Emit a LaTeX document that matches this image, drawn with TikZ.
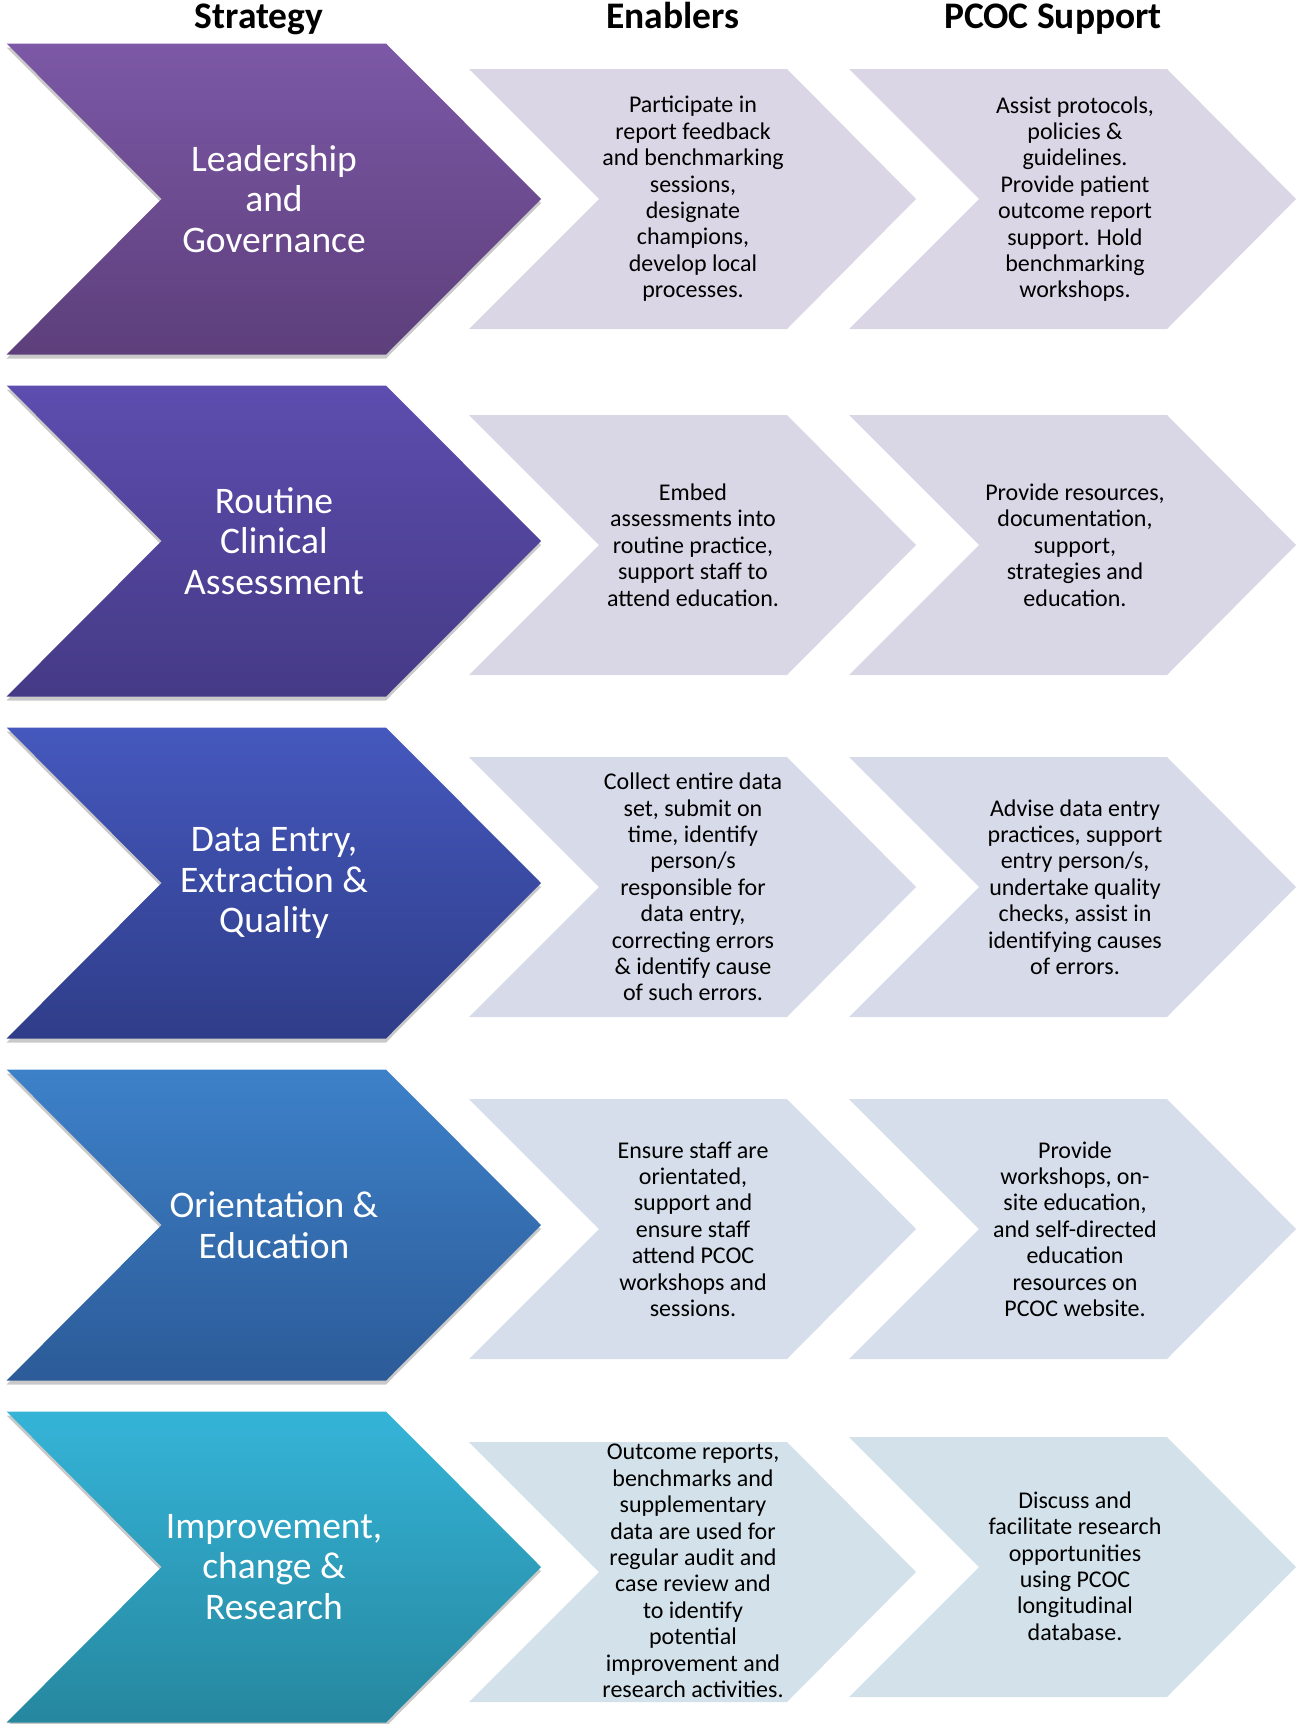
\documentclass[tikz,border=0pt]{standalone}
\usepackage{fontspec}
\setmainfont{Carlito}
\usetikzlibrary{shadows}

% colours of the strategy arrows (top / bottom of the shading)
\definecolor{leadtop}{HTML}{7C58A6}
\definecolor{leadbot}{HTML}{5D3F7B}
\definecolor{routtop}{HTML}{5D4DAF}
\definecolor{routbot}{HTML}{453A86}
\definecolor{datatop}{HTML}{4558BD}
\definecolor{databot}{HTML}{2F3D89}
\definecolor{orietop}{HTML}{3D81C9}
\definecolor{oriebot}{HTML}{2C5B98}
\definecolor{imprtop}{HTML}{35B4D8}
\definecolor{imprbot}{HTML}{26879F}
% pale arrows
\definecolor{paleA}{HTML}{DAD6E5}
\definecolor{paleB}{HTML}{D9D7E6}
\definecolor{paleC}{HTML}{D7DAE8}
\definecolor{paleD}{HTML}{D5DEEA}
\definecolor{paleE}{HTML}{D3E2EA}

\newcommand{\strategyarrow}[3]{% mid y, top colour, bottom colour
  \path[bigarrow, top color=#2, bottom color=#3] (6.6,#1-155.5) -- (386,#1-155.5) -- (541,#1) -- (386,#1+155.5) -- (6.6,#1+155.5) -- (161.6,#1) -- cycle;}
\newcommand{\palearrow}[3]{% left x, mid y, fill
  \fill[#3] (#1,#2-130) -- (#1+318,#2-130) -- (#1+447,#2) -- (#1+318,#2+130) -- (#1,#2+130) -- (#1+130,#2) -- cycle;}

\tikzset{
  bigarrow/.style={drop shadow={shadow xshift=0pt,shadow yshift=-4pt,opacity=0.3,fill=black!70}},
  headtxt/.style={anchor=base,font=\fontsize{37.5}{44}\selectfont\bfseries},
  bigtxt/.style={align=center,text=white,inner sep=0pt,font=\fontsize{37.5}{40.7}\selectfont},
  smalltxt/.style={align=center,text=black,inner sep=0pt,font=\fontsize{24}{26.4}\selectfont}
}

\begin{document}
\begin{tikzpicture}[x=1pt,y=1pt,yscale=-1,xscale=1]
\useasboundingbox (0,0) rectangle (1296,1724);
% column heads
\node[headtxt] (strat) at (259,28.5) {Strategy};
\node[headtxt] (enab) at (673,28.5) {Enablers};
\node[headtxt] (supp) at (1053,28.5) {PCOC Support};

% arrows
\strategyarrow{199}{leadtop}{leadbot}
\strategyarrow{541}{routtop}{routbot}
\strategyarrow{883}{datatop}{databot}
\strategyarrow{1225}{orietop}{oriebot}
\strategyarrow{1567}{imprtop}{imprbot}
\palearrow{469}{199}{paleA}
\palearrow{849}{199}{paleA}
\palearrow{469}{545}{paleB}
\palearrow{849}{545}{paleB}
\palearrow{469}{887}{paleC}
\palearrow{849}{887}{paleC}
\palearrow{469}{1229}{paleD}
\palearrow{849}{1229}{paleD}
\palearrow{469}{1572}{paleE}
\palearrow{849}{1567}{paleE}

% row 1
\node[bigtxt] (lead) at (274,199) {Leadership\\and\\Governance};
\node[smalltxt] (leadE) at (693,199) {Participate in\\report feedback\\and benchmarking\\sessions,\\designate\\champions,\\develop local\\processes.};
\node[smalltxt] (leadS) at (1075,199) {Assist protocols,\\policies \&\\guidelines.\\Provide patient\\outcome report\\support. Hold\\benchmarking\\workshops.};
% row 2
\node[bigtxt] (rout) at (274,541) {Routine\\Clinical\\Assessment};
\node[smalltxt] (routE) at (693,545) {Embed\\assessments into\\routine practice,\\support staff to\\attend education.};
\node[smalltxt] (routS) at (1075,545) {Provide resources,\\documentation,\\support,\\strategies and\\education.};
% row 3
\node[bigtxt] (data) at (274,883) {Data Entry,\\Extraction \&\\Quality};
\node[smalltxt] (dataE) at (693,887) {Collect entire data\\set, submit on\\time, identify\\person/s\\responsible for\\data entry,\\correcting errors\\\& identify cause\\of such errors.};
\node[smalltxt] (dataS) at (1075,887) {Advise data entry\\practices, support\\entry person/s,\\undertake quality\\checks, assist in\\identifying causes\\of errors.};
% row 4
\node[bigtxt] (orie) at (274,1225) {Orientation \&\\Education};
\node[smalltxt] (orieE) at (693,1229) {Ensure staff are\\orientated,\\support and\\ensure staff\\attend PCOC\\workshops and\\sessions.};
\node[smalltxt] (orieS) at (1075,1229) {Provide\\workshops, on-\\site education,\\and self-directed\\education\\resources on\\PCOC website.};
% row 5
\node[bigtxt] (impr) at (274,1567) {Improvement,\\change \&\\Research};
\node[smalltxt] (imprE) at (693,1571) {Outcome reports,\\benchmarks and\\supplementary\\data are used for\\regular audit and\\case review and\\to identify\\potential\\improvement and\\research activities.};
\node[smalltxt] (imprS) at (1075,1566) {Discuss and\\facilitate research\\opportunities\\using PCOC\\longitudinal\\database.};
\end{tikzpicture}
\end{document}
